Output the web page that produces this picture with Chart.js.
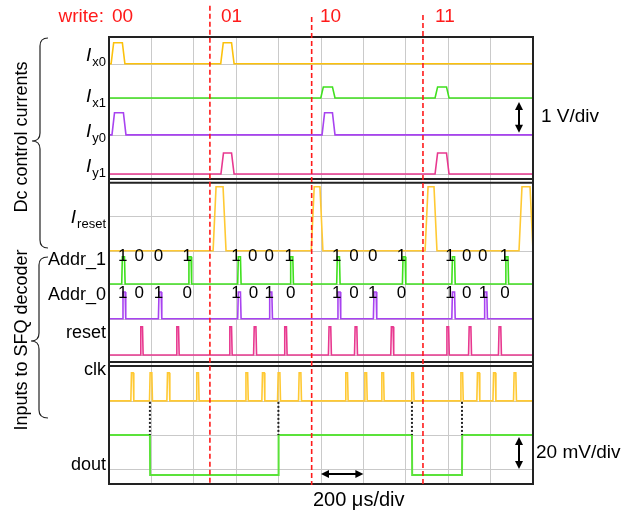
<!DOCTYPE html>
<html>
<head>
<meta charset="utf-8">
<script src="https://cdn.jsdelivr.net/npm/chart.js@4/dist/chart.umd.min.js"></script>
<style>
  body { margin: 0; background: #fff; }
</style>
</head>
<body>
<canvas id="scope" width="638" height="512"></canvas>
<script>
// time in microseconds (200 us per division), level in vertical divisions from the bottom
let tMax = 2000
let yMax = 13.34

// Dc control currents: [start, end] of each pulse
let ix0Pulses = [[10, 75], [527, 590]]
let ix1Pulses = [[999, 1066], [1538, 1604]]
let iy0Pulses = [[14, 80], [1005, 1066]]
let iy1Pulses = [[528, 590], [1538, 1604]]
let iresetPulses = [[491, 552], [954, 1009], [1491, 1547], [1934, 2000]]

// SFQ inputs: pulse centres
let addr1Times = [68, 382, 615, 862, 1082, 1392, 1625, 1877]
let addr0Times = [71, 241, 615, 763, 1085, 1255, 1625, 1777]
let resetTimes = [154, 324, 574, 689, 833, 1042, 1165, 1336, 1598, 1703, 1844]
let clkTimes = [110, 198, 280, 418, 650, 728, 802, 901, 1121, 1211, 1291, 1432, 1664, 1742, 1818, 1915]

// dout switching times (starts high)
let doutEdges = [193, 799, 1429, 1665]

// baselines and amplitudes (div)
let traceNames = ['Ix0', 'Ix1', 'Iy0', 'Iy1', 'Ireset', 'Addr_1', 'Addr_0', 'reset', 'clk', 'dout']
let traceBase = [12.54, 11.52, 10.42, 9.25, 6.96, 5.97, 4.93, 3.85, 2.48, 0.27]
let traceAmp = [0.63, 0.33, 0.66, 0.63, 1.91, 0.81, 0.8, 0.84, 0.84, 1.19]
let traceColors = ['#fcc10c', '#3fe01e', '#a843f0', '#e8388f', '#ffc933', '#3fe01e', '#a843f0', '#e8388f', '#ffc933', '#5be23a']

// bit labels written over the address lines
let addr1Bits = '1001100110011001'
let addr1BitTimes = [65, 143, 233, 369, 599, 678, 756, 850, 1074, 1156, 1244, 1380, 1608, 1687, 1763, 1865]
let addr0Bits = '1010101010101010'
let addr0BitTimes = [65, 143, 233, 369, 599, 681, 756, 857, 1074, 1156, 1244, 1380, 1608, 1687, 1766, 1868]

// write cycles
let writeWords = ['00', '01', '10', '11']
let writeTimes = [14, 528, 995, 1538]
let writeMarks = [476, 956, 1481]

// panel separators and extra grid levels
let panelSeps = [9.10, 8.99, 3.64, 3.52]
let extraGrid = [8.0, 1.46, 0.45]

let font = 'Arial, "Liberation Sans", sans-serif'

function pulseTrace(base, amp, pulses, edge) {
    let pts = [{x: 0, y: base}]
    for (let p of pulses) {
        pts.push({x: p[0], y: base}, {x: p[0] + edge, y: base + amp},
            {x: p[1] - edge, y: base + amp}, {x: p[1], y: base})
    }
    pts.push({x: tMax, y: base})
    return pts
}

function narrow(times, w) {
    return times.map(t => [t - w / 2, t + w / 2])
}

function stepTrace(low, amp, edges) {
    let high = low + amp
    let level = high
    let pts = [{x: 0, y: level}]
    for (let t of edges) {
        pts.push({x: t, y: level})
        level = level === high ? low : high
        pts.push({x: t + 1, y: level})
    }
    pts.push({x: tMax, y: level})
    return pts
}

let traceData = [
    pulseTrace(traceBase[0], traceAmp[0], ix0Pulses, 12),
    pulseTrace(traceBase[1], traceAmp[1], ix1Pulses, 12),
    pulseTrace(traceBase[2], traceAmp[2], iy0Pulses, 12),
    pulseTrace(traceBase[3], traceAmp[3], iy1Pulses, 12),
    pulseTrace(traceBase[4], traceAmp[4], iresetPulses, 14),
    pulseTrace(traceBase[5], traceAmp[5], narrow(addr1Times, 16), 3),
    pulseTrace(traceBase[6], traceAmp[6], narrow(addr0Times, 16), 3),
    pulseTrace(traceBase[7], traceAmp[7], narrow(resetTimes, 14), 3),
    pulseTrace(traceBase[8], traceAmp[8], narrow(clkTimes, 14), 3),
    stepTrace(traceBase[9], traceAmp[9], doutEdges)
]

let datasets = []
for (let i = 0; i < traceNames.length; i++) {
    datasets.push({
        label: traceNames[i],
        data: traceData[i],
        showLine: true,
        borderColor: traceColors[i],
        borderWidth: i === 9 ? 2 : 1.6,
        pointRadius: 0,
        tension: 0
    })
}

// left side labels: [main, subscript, y]
let leftLabels = [
    ['I', 'x0', 12.63], ['I', 'x1', 11.40], ['I', 'y0', 10.36], ['I', 'y1', 9.31],
    ['I', 'reset', 7.79], ['Addr_1', '', 6.54], ['Addr_0', '', 5.49],
    ['reset', '', 4.36], ['clk', '', 3.25], ['dout', '', 0.42]
]

function arrowHead(ctx, x, y, dx, dy) {
    let len = 8, half = 4
    ctx.beginPath()
    ctx.moveTo(x, y)
    ctx.lineTo(x - dx * len - dy * half, y - dy * len + dx * half)
    ctx.lineTo(x - dx * len + dy * half, y - dy * len - dx * half)
    ctx.closePath()
    ctx.fill()
}

function doubleArrow(ctx, x1, y1, x2, y2) {
    let d = Math.hypot(x2 - x1, y2 - y1)
    let dx = (x2 - x1) / d, dy = (y2 - y1) / d
    ctx.beginPath()
    ctx.moveTo(x1 + dx * 4, y1 + dy * 4)
    ctx.lineTo(x2 - dx * 4, y2 - dy * 4)
    ctx.stroke()
    arrowHead(ctx, x2, y2, dx, dy)
    arrowHead(ctx, x1, y1, -dx, -dy)
}

function brace(ctx, xr, xm, xl, top, mid, bot) {
    let r = 8
    ctx.beginPath()
    ctx.moveTo(xr, top)
    ctx.quadraticCurveTo(xm, top, xm, top + r)
    ctx.lineTo(xm, mid - r)
    ctx.quadraticCurveTo(xm, mid, xl, mid)
    ctx.quadraticCurveTo(xm, mid, xm, mid + r)
    ctx.lineTo(xm, bot - r)
    ctx.quadraticCurveTo(xm, bot, xr, bot)
    ctx.stroke()
}

let scopeDecor = {
    id: 'scopeDecor',
    beforeDatasetsDraw(chart) {
        let ctx = chart.ctx, a = chart.chartArea, y = chart.scales.y
        ctx.save()
        ctx.strokeStyle = '#c9c9c9'
        ctx.lineWidth = 1
        for (let v of traceBase.slice(0, 9).concat(extraGrid)) {
            let py = Math.round(y.getPixelForValue(v)) + 0.5
            ctx.beginPath()
            ctx.moveTo(a.left, py)
            ctx.lineTo(a.right, py)
            ctx.stroke()
        }
        ctx.restore()
    },
    afterDraw(chart) {
        let ctx = chart.ctx, a = chart.chartArea
        let x = chart.scales.x, y = chart.scales.y
        ctx.save()

        // frame and panel separators
        ctx.strokeStyle = '#222'
        ctx.lineWidth = 2
        ctx.strokeRect(a.left, a.top, a.right - a.left, a.bottom - a.top)
        for (let v of panelSeps) {
            let py = y.getPixelForValue(v)
            ctx.beginPath()
            ctx.moveTo(a.left, py)
            ctx.lineTo(a.right, py)
            ctx.stroke()
        }

        // clk -> dout dotted markers
        ctx.lineWidth = 2
        ctx.setLineDash([2, 2])
        for (let t of doutEdges) {
            let px = x.getPixelForValue(t)
            ctx.beginPath()
            ctx.moveTo(px, y.getPixelForValue(traceBase[8]) + 1)
            ctx.lineTo(px, y.getPixelForValue(traceBase[9] + traceAmp[9]))
            ctx.stroke()
        }

        // write cycle markers
        let markTops = [14.27, 13.94, 14.0]
        ctx.strokeStyle = '#ff1a1a'
        ctx.lineWidth = 1.6
        ctx.setLineDash([5, 3])
        writeMarks.forEach((t, i) => {
            let px = x.getPixelForValue(t)
            ctx.beginPath()
            ctx.moveTo(px, y.getPixelForValue(markTops[i]))
            ctx.lineTo(px, a.bottom + 1)
            ctx.stroke()
        })
        ctx.setLineDash([])

        ctx.fillStyle = '#ff1a1a'
        ctx.font = '19px ' + font
        ctx.textBaseline = 'alphabetic'
        ctx.textAlign = 'left'
        writeWords.forEach((w, i) => ctx.fillText(w, x.getPixelForValue(writeTimes[i]), 22))
        ctx.textAlign = 'right'
        ctx.fillText('write:', x.getPixelForValue(writeTimes[0]) - 8, 22)

        // bits over address lines
        ctx.fillStyle = '#000'
        ctx.font = '17px ' + font
        ctx.textAlign = 'center'
        ctx.textBaseline = 'middle'
        addr1BitTimes.forEach((t, i) => ctx.fillText(addr1Bits[i], x.getPixelForValue(t), y.getPixelForValue(6.79)))
        addr0BitTimes.forEach((t, i) => ctx.fillText(addr0Bits[i], x.getPixelForValue(t), y.getPixelForValue(5.70)))

        // trace names
        ctx.textBaseline = 'alphabetic'
        ctx.textAlign = 'left'
        let right = a.left - 3
        for (let [main, sub, v] of leftLabels) {
            let py = y.getPixelForValue(v)
            if (sub) {
                ctx.font = '13px ' + font
                let sw = ctx.measureText(sub).width
                ctx.fillText(sub, right - sw, py + 5)
                ctx.font = 'italic 19px ' + font
                let mw = ctx.measureText(main).width
                ctx.fillText(main, right - sw - mw - 1, py)
            } else {
                ctx.font = '18px ' + font
                let mw = ctx.measureText(main).width
                ctx.fillText(main, right - mw, py)
            }
        }

        // group braces and titles
        ctx.strokeStyle = '#222'
        ctx.lineWidth = 1.2
        brace(ctx, 48, 40, 32, 38, 141, 248)
        brace(ctx, 48, 39, 31, 257, 341, 418)
        ctx.font = '18px ' + font
        ctx.textAlign = 'center'
        ctx.textBaseline = 'middle'
        let groups = [['Dc control currents', 137], ['Inputs to SFQ decoder', 340]]
        for (let [txt, cy] of groups) {
            ctx.save()
            ctx.translate(22, cy)
            ctx.rotate(-Math.PI / 2)
            ctx.fillText(txt, 0, 0)
            ctx.restore()
        }

        // scale arrows
        ctx.strokeStyle = '#000'
        ctx.fillStyle = '#000'
        ctx.lineWidth = 2
        let ax = x.getPixelForValue(1934)
        doubleArrow(ctx, ax, y.getPixelForValue(11.40), ax, y.getPixelForValue(10.48))
        doubleArrow(ctx, ax, y.getPixelForValue(1.40), ax, y.getPixelForValue(0.45))
        doubleArrow(ctx, x.getPixelForValue(1000), y.getPixelForValue(0.30), x.getPixelForValue(1200), y.getPixelForValue(0.30))

        ctx.textAlign = 'left'
        ctx.font = '19px ' + font
        ctx.fillText('1 V/div', a.right + 8, y.getPixelForValue(10.96))
        ctx.fillText('20 mV/div', a.right + 3, y.getPixelForValue(0.93))
        ctx.font = '20px ' + font
        ctx.fillText('200 \u03bcs/div', x.getPixelForValue(962), y.getPixelForValue(-0.48))

        ctx.restore()
    }
}

let chart = new Chart('scope', {
    type: 'scatter',
    data: {datasets: datasets},
    options: {
        responsive: false,
        animation: false,
        devicePixelRatio: 1,
        layout: {padding: {left: 109, right: 105, top: 37, bottom: 28}},
        plugins: {legend: {display: false}, tooltip: {enabled: false}},
        scales: {
            x: {
                type: 'linear', min: 0, max: tMax,
                ticks: {stepSize: 200, display: false},
                grid: {color: '#cacaca', drawTicks: false},
                border: {display: false}
            },
            y: {
                type: 'linear', min: 0, max: yMax, display: false
            }
        }
    },
    plugins: [scopeDecor]
})
</script>
</body>
</html>
